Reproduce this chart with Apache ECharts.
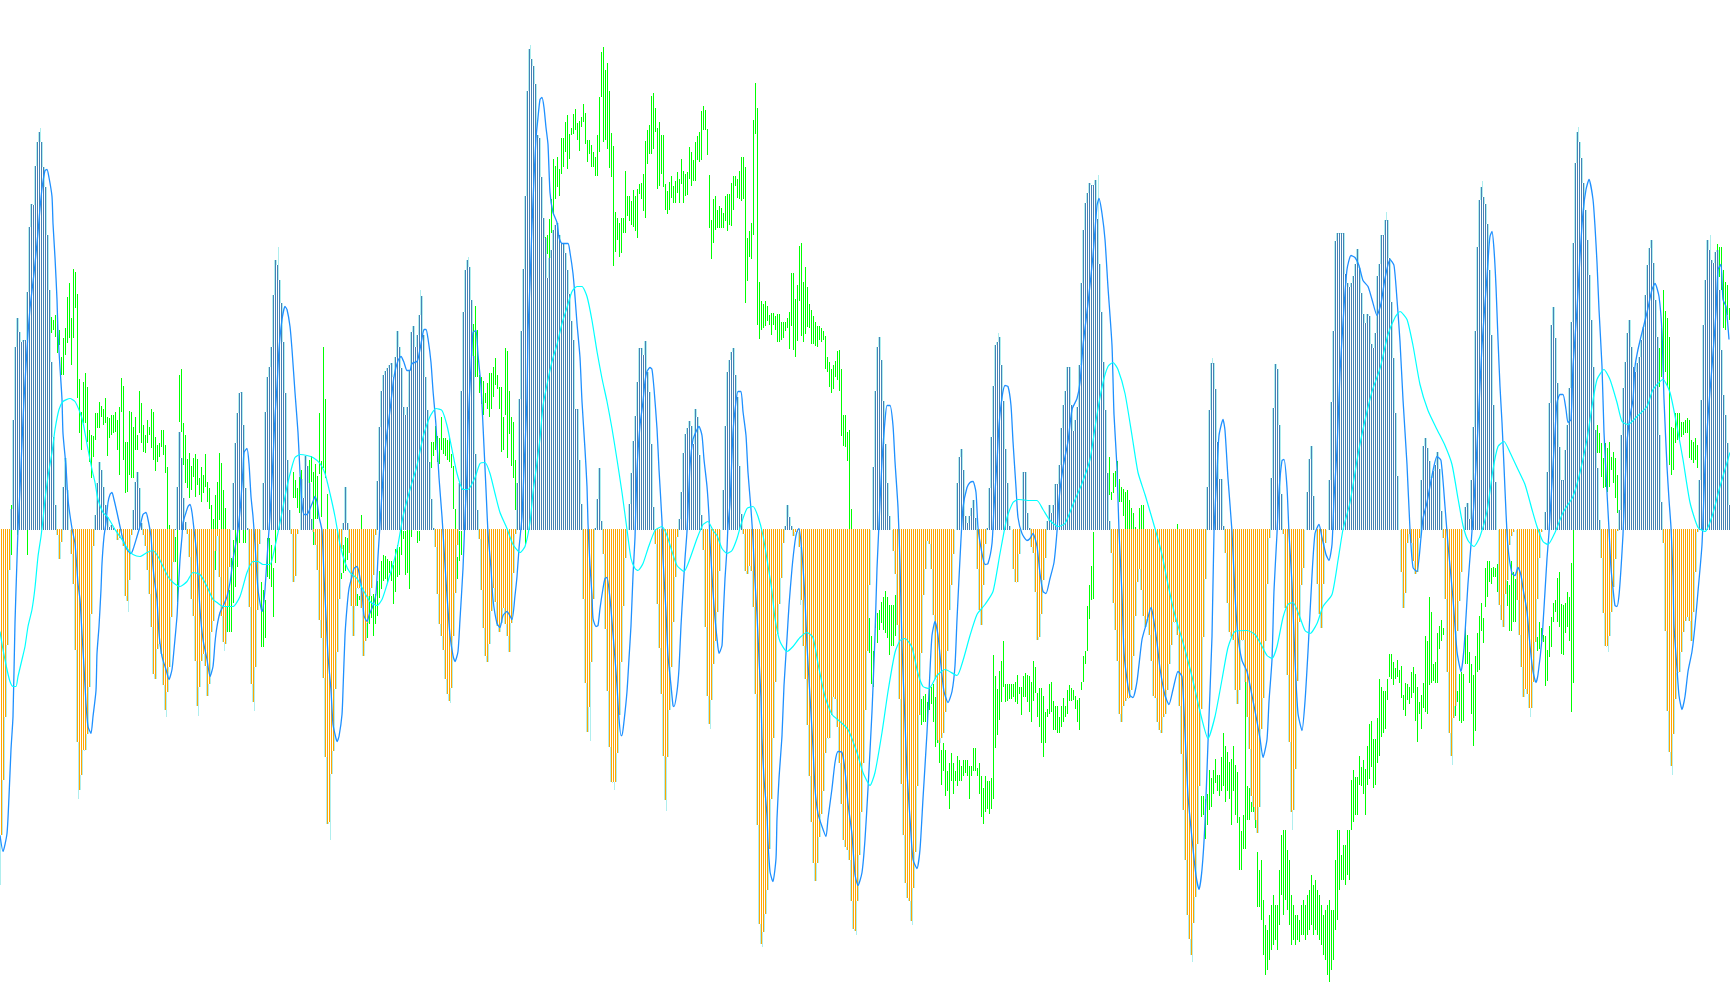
<!DOCTYPE html>
<html><head><meta charset="utf-8"><style>html,body{margin:0;padding:0;background:#fff}#c{width:1730px;height:1005px}</style>
<script src="https://cdn.jsdelivr.net/npm/echarts@6/dist/echarts.min.js"></script></head><body><div id="c"></div><script>
// each segment: [first bar position, [values for every second position]]
const histogramSegments = [
[1,[-305,-250,-187,-115,-40,21,110,183,212,198,188,190,190,238,303,326,325,364,388,398,388,363,343,295,240,168,93,25,-5,-29,-12,43,72,40]],
[71,[-24,-54,-120,-212,-260,-245,-220,-220,-204,-157,-84,-16,15,47,68,60,43,25,13,3,5,2]],
[117,[-10,-8,-5,-16,-66,-71,-50,-5,20,48,58,42,7]],
[143,[-5,-16,-40,-64,-97,-144,-149,-119,-114,-124,-155,-180,-162,-137,-87,-32,1,43,98,72,32,8]],
[187,[-4,-27,-69,-86,-131,-176,-157,-131,-124,-136,-166,-154,-102,-91,-21,-6,-47,-86,-112,-114,-77,-37]],
[233,[47,87,117,137,138,105,42,2,-77,-154,-172,-137,-80,-14]],
[263,[47,118,153,163,183,235,270,265,250,227,188,137,70,20,-4,-52,-46,-4]],
[301,[51,32,74,64,47,11,-2,-15,-40,-90,-108,-148,-227,-294,-292,-244,-221,-159,-122,-69,-19,7,43,7,-23,-76,-106,-76,-58,-58,-78,-126,-111,-93,-66,-58,-45,-5]],
[377,[49,103,139,155,159,162,165,167,153,173,199,183,162,123,115,123,159,198,204,183,195,215,234,195,153,120,68,31,2]],
[435,[-17,-64,-94,-106,-120,-149,-164,-171,-158,-106,-63,-15,47,139,218,260,270,263,230,174,76,20]],
[479,[-9,-60,-98,-126,-132,-114,-81,-58,-72,-96,-102,-93,-78,-94,-106,-122,-93,-43,-4]],
[517,[47,131,199,261,334,439,481,471,464,446,395,392,353,312,292,252,272,280,300,305,307,295,287,287,277,260,236,209,190,121,121,70,26]],
[583,[-69,-153,-202,-177,-132,-69]],
[595,[2,31,62,9]],
[603,[-24,-99,-161,-217,-252,-252,-252,-223,-185,-132,-76,-28]],
[629,[26,57,89,114,148,182,182,175,189,158,138,86,23]],
[655,[-14,-74,-118,-164,-226,-270,-227,-180,-137,-92,-47,-7]],
[679,[11,38,77,96,102,109,104,86,121,113,75,15]],
[703,[-20,-97,-166,-194,-170,-134,-111,-82,-41]],
[723,[40,104,158,170,178,182,155,133,64,16]],
[743,[-4,-41,-44,-36,-41,-77,-164,-295,-394,-414,-402,-384,-360,-319,-269,-208,-152,-104,-74,-48,-13]],
[785,[4,25,13,4]],
[793,[-6,-2,-2,-17,-70,-116,-149,-195,-246,-292,-333,-351,-333,-307,-284,-261,-223,-208,-208,-185,-167,-169,-197,-233,-274,-310,-317,-320,-330,-371,-399,-401,-371,-325,-282,-233,-180,-121,-55]],
[873,[63,139,183,193,170,129,86,47,14]],
[893,[-21,-44,-95,-169,-254,-305,-353,-368,-371,-391,-358,-322,-256,-185,-123,-65,-39,-11,-14,-39,-85,-149,-210,-213,-208,-203,-182,-121,-80,-55,-24]],
[957,[47,73,81,60,14,7,14,22,30,12,-39,-80,-95,-55,-14,2,42,93,144,185,188,193,165,129,81,47,4]],
[1013,[-39,-52,-52,-24]],
[1023,[58,58,17,2]],
[1031,[-17,-23,-62,-110,-107,-84,-50,-28,9,25,17,25,46,46,65,102,125,139,163,163,125,99,110,123,165,247,300,327,337,347,345,345,350,311,266,218,168,120,57,9]],
[1111,[-23,-73,-100,-131,-184,-192,-176,-171,-168,-168,-160,-126,-86,-52,-39,-60,-86,-97,-89,-105,-131,-166,-168,-192,-200,-203,-187,-184,-160,-134,-115,-92,-92,-105,-176,-224,-280,-330,-385,-409,-425,-393,-367,-314,-256,-179,-107,-49]],
[1207,[43,120,167,167,141,88,51,51,4]],
[1225,[-23,-73,-102,-107,-110,-160,-174,-160,-110,-110,-152,-187,-219,-266,-277,-290,-303,-277,-199,-168,-111,-54,-8]],
[1271,[52,122,166,161,105,36]],
[1283,[-4,-78,-145,-212,-282,-280,-239,-151,-92,-55,-38]],
[1307,[38,71,84,34]],
[1317,[-54,-84,-98,-54,-13]],
[1329,[50,128,199,289,297,297,297,297,256,247,243,247,254,266,281,262,237,216,207,216,214,186,182,197,254,266,295,295,310,310,272,228,172,117,54]],
[1401,[-42,-78,-63,-13,-4,-13,-31,-44,-42,-8]],
[1421,[50,84,92,82,69,52,59,65,78,61,19]],
[1443,[-8,-69,-142,-203,-226,-188,-176,-101,-71,-42]],
[1465,[23,27,11,50,103,199,283,330,343,333,326,306,260,195,125,48]],
[1499,[-75,-90,-97,-64,-50,-15,-6,-2]],
[1517,[-70,-105,-137,-167,-159,-164,-178,-178,-152,-112,-69,-28,-2]],
[1545,[18,58,127,205,223,192,147,83,50,50,80,105,142,208,287,367,398,388,372,347,320,290,255,210,163,100,62,10]],
[1601,[-28,-83,-116,-116,-106,-82,-57,-29,-1]],
[1619,[20,95,142,168,197,210,183,163,158,167,173,190,203,235,265,282,290,267,230,193,95,28]],
[1663,[-13,-101,-181,-222,-236,-204,-169,-143,-142,-122,-102,-91,-87,-91,-111,-82,-42,-2]],
[1699,[50,130,205,250,290,280,270,267,278,280,240,180,135,115,87,25]]
];
// pale envelope tips: position, value
const paleTips = [0,-355,40,402,78,-269,128,-82,166,-187,198,-186,224,-121,254,-181,278,283,330,-310,420,240,450,-173,468,273,530,485,590,-211,614,-260,666,-281,710,-199,762,-417,800,-75,856,-405,912,-395,998,197,1098,355,1192,-432,1212,172,1292,-300,1386,318,1452,-235,1482,349,1530,-187,1578,403,1608,-122,1672,-245,1710,295];
// each segment: [first bar position, [high,low, high,low, ...]]
const greenSegments = [
[11,[25,-25]],[17,[5,-5]],[27,[10,-25]],
[51,[213,197,210,200,215,193,206,177,200,185,173,155,192,155,202,175,233,187,247,192,212,165,261,192,258,222,236,132,151,97,118,80,148,107,157,107,143,88,100,68,95,52,94,73,117,90,117,102,128,102,124,113,121,105,132,107,113,74,112,92,115,95,115,97,118,98,110,80,123,55,152,118,144,70,88,37,88,38,119,55,118,52,103,52,113,80,95,80,139,97,127,87,105,78,95,77,110,87,103,95,121,82,118,70,93,59,85,68,87,73,100,83,100,75,85,57,63,-1,5,-3]],
[175,[-7,-32,20,-72,155,108,161,98,107,65,95,47,71,42,77,32,64,40,72,53,76,33,71,45,52,35,63,28,55,37,76,43,48,28,42,21,25,-1,11,-1,35,-40,48,-1,77,10,67,-1,40,-1,22,-1,-60,-102,-60,-102,-28,-102,-10,-73,0,-57,0,-37,0,-13]],
[243,[0,-13,0,-13]],
[261,[-52,-117,-60,-117,-70,-108,-8,-47,-8,-49,-15,-57,-38,-87,0,-33]],
[293,[58,32,50,32,42,22,53,17,60,17]],
[309,[70,11,74,48,58,-15,66,11,54,11,117,56,69,13,183,62,131,52,36,1]],
[341,[-43,-49,-15,-43,-7,-41,-8,-30]],
[357,[-64,-76,-66,-70,15,-3]],
[367,[-92,-108,-64,-94,-66,-88,-64,-106,-64,-94,-51,-86,-41,-68,-31,-59,-25,-51,-26,-49,-29,-53,-31,-43,-31,-51,-35,-74,-19,-62,-15,-47,-17,-45,1,-25,-1,-9,-1,-45,1,-43,1,-59,1,-7]],
[417,[-1,-13,-1,-11]],
[431,[88,62,88,74,104,80,94,68,92,66,113,80,92,76,92,74,90,70,92,68,76,62,64,21,21,1,-27,-49,-1,-31,-1,-25]],
[473,[206,171,224,153,200,153,155,137,153,126,149,115,137,127,147,121,157,113,157,121,163,133,172,145,155,141,143,121,143,78,113,80,182,115,179,72,139,96,113,64,108,52,70,20]],
[525,[0,-14]],
[545,[293,271,295,276,311,258,331,297,371,317,364,331,373,343,361,334,392,356,392,363,408,378,415,361,396,371,402,395,416,396,421,400,407,390,409,379,413,403,426,408,417,386,390,368,390,376,385,363,378,363,373,354,395,354,433,378,478,433,483,388,460,390,467,381,439,362,397,353,384,264,318,278,312,290,307,273,312,277,312,297,359,297,334,314,334,309,329,305,340,303,334,299,341,292,346,336,347,331,356,319,389,312,400,366,405,376,434,376,437,381,422,398,402,341,408,344,395,356,395,343,346,320,339,316,348,320,354,332,344,327,349,327,358,337,351,327,371,346,359,327,356,334,358,335,383,351,378,344,370,349,388,349,394,370,398,368,419,370,424,400,420,400,401,375,355,302,310,271,331,287,334,300,320,302,324,302,322,302,317,302,334,309,336,299,336,305,347,304,354,320,354,344,351,332,359,331,373,329,373,331,363,227,292,249,299,273,307,271,410,295,447,396,422,205,248,191,229,200,226,202,229,204,224,209,215,205,217,195,217,205,214,200,216,188,216,188,208,190,208,192,208,199,212,202,218,181,257,204,257,180,231,173,245,189,284,229,287,194,248,188,263,196,243,203,226,202,220,186,214,186,208,184,204,183,204,190,202,188,199,190,194,161,173,158,168,143,161,137,165,141,169,153,179,150,180,139,161,94,115,84,115,83,98,69,100,0,21,0]],
[869,[-88,-123,-106,-154,-121,-157,-83,-98,-83,-113,-80,-100,-72,-93,-67,-100,-61,-103,-67,-108,-75,-125,-75,-116,-75,-116,-65,-106]],
[921,[-169,-195,-166,-192,-164,-192,-172,-192,-157,-180,-157,-174,-154,-192,-167,-217,-192,-213,-205,-233,-220,-255,-213,-241,-220,-266,-241,-261,-233,-279,-223,-251,-233,-264,-241,-251,-226,-256,-230,-251,-236,-251,-230,-246,-230,-243,-230,-246,-236,-269,-236,-246,-218,-241,-218,-241,-238,-246,-233,-264,-246,-287,-258,-294,-246,-282,-251,-279,-251,-284,-248,-279,-125,-269,-146,-218,-159,-205,-141,-190,-131,-172,-111,-157,-154,-172,-154,-171,-154,-169,-154,-169,-154,-167,-152,-172,-145,-174,-157,-164,-157,-185,-146,-167,-143,-167,-145,-172,-146,-182,-152,-192,-131,-171,-137,-163,-163,-187,-158,-197,-158,-213,-166,-227,-182,-213,-179,-187,-154,-184,-152,-182,-171,-200,-176,-200,-176,-203,-187,-203,-176,-197,-168,-192,-176,-187,-160,-184,-155,-171,-158,-171,-160,-170,-166,-179,-170,-192,-168,-200,-152,-160,-126,-152,-121,-134,-76,-121,-55,-89,-36,-70,-2,-69]],
[1109,[73,35,38,30,57,37,59,43,69,51,51,28,43,28,41,14,38,0,40,0,30,0,22,0,17,0,3,0]],
[1139,[22,0,25,0,25,0]],
[1177,[6,0]],
[1201,[-266,-287,-266,-285,-269,-309,-264,-295,-240,-280,-248,-277,-240,-264,-229,-253,-245,-261,-245,-266,-227,-261,-203,-256,-216,-272,-222,-261,-232,-269,-229,-295,-216,-261,-235,-285,-242,-293,-287,-340,-301,-340,-285,-319,-152,-319,-256,-290,-258,-290,-272,-282,-256,-282,-287,-298,-322,-377,-340,-377]],
[1261,[-330,-390,-370,-425,-395,-445,-400,-440,-385,-430,-375,-420,-365,-415,-375,-410,-375,-420,-340,-395,-305,-365,-300,-385,-300,-370,-320,-380,-330,-395,-365,-415,-375,-410,-385,-415,-385,-410,-390,-412,-375,-405,-370,-405,-375,-410,-365,-405,-360,-400,-345,-395,-355,-405,-350,-400,-360,-405,-365,-410,-375,-415,-385,-425,-380,-430,-375,-445,-370,-452,-380,-440,-380,-430,-330,-400,-300,-390,-300,-360,-325,-350,-315,-350,-315,-355,-300,-345,-300,-350,-250,-300,-240,-292]],
[1355,[-247,-285,-247,-285,-226,-255,-237,-256,-230,-264,-239,-285,-216,-255,-194,-249,-191,-237,-209,-258,-209,-255,-188,-233,-149,-226,-157,-207,-161,-203,-161,-199,-149,-170,-124,-147,-124,-149,-132,-155,-138,-149,-130,-147,-140,-153,-136,-168,-165,-180,-153,-186,-154,-170,-157,-174,-142,-168,-137,-163,-144,-191,-157,-212,-172,-184,-165,-199,-153,-178,-106,-182,-111,-184,-67,-155,-82,-153,-134,-151,-132,-153,-103,-153,-96,-119,-90,-111,-98,-105]],
[1455,[-165,-186,-161,-172,-144,-191,-142,-193,-144,-191,-92,-134,-105,-134,-122,-153,-134,-184,-145,-216,-126,-201,-103,-142,-86,-140,-73,-101,-88,-113,-38,-77,-31,-67,-31,-52,-38,-54,-37,-47,-38,-47,-34,-62]],
[1507,[-51,-76,-55,-101,-31,-101,-42,-92,-49,-92,-32,-55]],
[1537,[-107,-121,-92,-119,-98,-111,-105,-112,-106,-156,-120,-151,-96,-127,-87,-117,-73,-92,-70,-82,-48,-92,-42,-97,-74,-124,-75,-125,-73,-103,-62,-97,-67,-111,-33,-182,0,-153]],
[1597,[105,77,97,77,87,53,72,42,87,43,82,38,88,43,73,60,78,47,72,32,55,17]],
[1657,[182,152,182,143,202,153,240,155,219,158,212,143,193,65,103,55,102,60,117,87,117,90,117,90,108,93,108,95,110,97,112,97,110,72,90,70,88,67,92,70,85,62]],
[1717,[286,247,283,253,283,240,260,202,248,200,245,215,222,210]]
];
// fast line: position, value pairs
const blueLine = [0,-306,3,-322,7,-304,9,-267,11,-220,13,-187,15,-93,17,-30,18,0,20,40,22,87,24,130,28,196,30,221,32,239,34,256,36,276,38,297,40,321,42,341,45,359,47,360,49,352,52,333,53,306,55,272,57,230,58,196,60,162,62,130,63,96,66,63,68,30,72,1,75,-14,78,-54,80,-70,82,-104,84,-137,86,-174,88,-197,91,-204,93,-187,96,-161,97,-124,99,-97,101,-60,102,-34,104,-7,106,7,108,27,110,35,112,37,114,30,117,17,120,3,123,-10,127,-20,131,-24,133,-20,137,-7,140,3,143,15,146,17,148,10,151,-7,153,-37,155,-55,157,-70,159,-104,162,-127,166,-140,169,-150,172,-140,174,-120,177,-87,178,-67,180,-30,182,-7,183,7,186,17,188,23,190,25,192,17,194,0,197,-27,200,-80,203,-110,207,-130,210,-147,213,-137,215,-113,217,-97,220,-83,223,-77,227,-67,230,-53,233,-30,237,-7,240,18,243,60,244,77,247,81,249,66,251,33,253,13,255,-14,258,-60,262,-82,263,-79,265,-60,268,-14,270,13,273,70,275,113,277,143,279,180,282,210,285,223,287,220,290,203,292,180,295,137,298,97,300,57,302,26,304,15,307,15,310,21,313,28,315,33,317,28,319,13,322,-1,324,-47,326,-86,328,-126,331,-161,333,-195,336,-209,337,-212,339,-207,342,-185,343,-161,345,-106,347,-78,349,-59,352,-47,354,-39,357,-37,359,-43,362,-62,364,-86,367,-92,369,-86,373,-76,376,-64,378,-27,380,5,383,52,386,88,390,119,394,153,398,169,401,173,404,167,407,159,410,159,412,166,417,168,419,175,422,191,424,200,426,200,428,191,431,167,433,139,436,104,439,52,442,13,445,-35,447,-66,450,-106,453,-126,455,-132,458,-122,460,-90,463,-39,465,13,467,56,468,104,471,163,473,197,476,199,478,175,481,143,483,104,486,40,488,-3,491,-39,493,-70,497,-94,500,-98,503,-86,507,-82,512,-90,515,-66,517,-47,519,-19,522,13,524,60,527,131,528,198,530,246,532,304,534,351,536,391,538,412,540,430,542,432,544,422,546,402,548,385,550,337,553,317,557,307,559,292,562,286,568,286,570,277,573,256,575,233,577,206,580,172,582,128,585,80,587,43,588,6,590,-36,592,-66,593,-89,596,-97,598,-96,600,-79,603,-59,605,-49,607,-48,610,-69,612,-92,615,-129,617,-156,619,-189,621,-206,622,-206,624,-192,627,-162,629,-129,631,-96,633,-46,635,-8,637,60,640,104,643,128,645,148,647,158,650,162,652,160,654,141,657,101,659,60,662,8,663,-29,666,-82,668,-126,671,-156,673,-176,674,-177,677,-162,679,-139,681,-96,683,-62,685,-29,687,-2,690,63,693,90,697,100,699,103,702,94,704,70,707,43,709,13,710,-12,713,-62,715,-89,717,-109,719,-124,722,-116,723,-92,725,-49,727,-19,728,4,730,26,733,97,736,128,738,138,741,138,743,118,746,94,748,57,751,20,753,-10,755,-52,757,-85,759,-129,761,-169,762,-209,764,-249,767,-286,768,-312,770,-342,772,-350,773,-352,776,-329,777,-289,779,-249,782,-206,784,-156,787,-109,789,-76,792,-39,795,-12,797,-2,799,1,802,-24,805,-70,807,-116,810,-167,813,-218,815,-259,818,-284,822,-297,826,-307,828,-289,832,-259,835,-233,838,-222,842,-223,845,-241,848,-274,852,-305,855,-345,858,-356,862,-343,865,-310,868,-259,872,-182,875,-106,877,-39,880,27,882,68,885,109,887,124,890,124,893,104,895,68,898,22,900,-34,902,-116,905,-192,907,-243,910,-289,913,-330,917,-339,920,-320,923,-269,927,-203,930,-141,932,-106,935,-92,938,-106,941,-136,944,-162,948,-173,952,-162,955,-136,957,-90,960,-29,963,22,967,42,970,47,973,48,976,37,978,2,982,-24,985,-35,988,-34,992,-14,994,22,997,68,999,104,1002,132,1005,144,1008,143,1011,124,1013,88,1016,42,1018,12,1022,-4,1027,-11,1030,-9,1033,-4,1037,-17,1040,-44,1043,-62,1046,-64,1050,-49,1054,-33,1057,-2,1059,30,1063,62,1068,88,1072,120,1077,131,1080,147,1083,184,1088,226,1093,274,1097,324,1099,331,1102,316,1105,290,1108,242,1112,184,1114,115,1117,62,1119,-2,1122,-65,1124,-123,1127,-150,1130,-166,1133,-168,1137,-152,1142,-110,1147,-92,1151,-78,1153,-86,1157,-113,1160,-139,1165,-166,1169,-175,1173,-160,1178,-142,1182,-147,1185,-203,1188,-266,1192,-309,1196,-346,1199,-360,1202,-340,1205,-293,1208,-213,1212,-107,1214,-2,1217,57,1219,94,1223,110,1225,99,1228,51,1232,-2,1235,-65,1238,-107,1242,-131,1247,-142,1252,-166,1257,-192,1260,-209,1263,-228,1267,-210,1269,-172,1272,-130,1274,-61,1277,-4,1279,38,1282,69,1284,70,1287,42,1289,-4,1292,-54,1295,-130,1298,-184,1302,-201,1305,-172,1308,-122,1312,-46,1315,-4,1319,5,1322,-8,1326,-25,1329,-31,1332,-15,1334,31,1337,80,1340,157,1344,222,1347,260,1351,274,1355,272,1359,264,1363,249,1368,243,1372,230,1377,214,1381,226,1385,251,1390,270,1394,264,1397,230,1400,188,1403,130,1407,65,1410,0,1413,-38,1417,-42,1421,-8,1423,11,1427,27,1432,54,1437,73,1441,69,1445,23,1448,-15,1453,-69,1457,-122,1461,-142,1464,-119,1468,-54,1471,-15,1474,27,1478,103,1482,184,1487,253,1489,283,1490,293,1492,298,1494,280,1496,243,1498,190,1500,143,1502,107,1504,63,1506,17,1508,-18,1512,-44,1515,-46,1518,-38,1521,-46,1523,-59,1527,-82,1530,-116,1533,-142,1536,-153,1538,-145,1542,-109,1545,-62,1547,-29,1549,-3,1552,47,1555,97,1557,127,1560,135,1563,135,1566,120,1568,107,1571,110,1573,163,1577,220,1580,273,1583,317,1586,340,1589,350,1593,330,1595,303,1597,267,1599,220,1602,163,1604,97,1607,37,1609,0,1611,-39,1613,-59,1615,-76,1617,-77,1619,-66,1621,-39,1623,-5,1627,87,1630,113,1633,130,1635,163,1638,180,1642,197,1647,217,1652,240,1655,246,1659,233,1662,197,1664,130,1667,63,1669,30,1671,2,1673,-46,1674,-96,1677,-139,1679,-166,1682,-180,1685,-167,1688,-142,1692,-122,1695,-96,1698,-62,1702,-15,1705,63,1708,113,1712,163,1716,217,1718,260,1721,265,1723,230,1726,223,1729,190];
// slow line: position, value pairs
const cyanLine = [0,-102,3,-120,7,-140,10,-152,13,-157,16,-157,18,-147,22,-130,25,-117,28,-97,32,-80,35,-58,38,-27,41,-7,43,10,45,30,48,53,52,77,55,100,59,120,63,128,70,131,75,128,80,117,83,107,88,80,92,60,95,47,98,30,103,17,108,12,115,0,122,-10,128,-20,133,-25,140,-27,147,-23,153,-21,158,-27,163,-37,168,-47,173,-53,180,-57,187,-52,193,-43,200,-45,207,-57,213,-70,217,-73,223,-77,233,-77,240,-67,247,-43,253,-32,258,-32,263,-35,270,-35,275,-17,278,-3,282,17,287,43,292,63,295,72,300,75,307,74,313,72,320,66,325,56,330,36,335,13,340,-15,345,-33,350,-43,357,-49,363,-60,370,-72,377,-76,382,-70,387,-55,393,-35,398,-15,403,13,410,40,417,64,423,92,430,113,436,121,442,119,447,104,452,80,457,56,463,40,468,40,475,52,480,66,485,67,490,56,495,36,500,17,507,1,513,-15,520,-23,525,-17,530,7,533,37,537,67,540,91,543,124,547,145,552,168,557,185,562,206,567,222,572,238,577,243,582,243,587,233,592,209,597,178,602,151,607,128,612,101,617,70,622,37,627,0,631,-29,635,-39,638,-41,643,-34,648,-19,655,-1,662,3,667,-6,672,-22,677,-36,684,-42,690,-29,697,-9,703,5,708,8,713,-1,717,-6,722,-19,727,-24,732,-21,737,-9,741,5,747,21,753,23,758,13,763,-6,768,-36,772,-62,775,-89,780,-112,787,-122,793,-117,800,-108,807,-103,813,-108,818,-134,825,-167,832,-185,840,-192,848,-200,857,-223,863,-243,870,-256,875,-243,882,-203,888,-162,895,-123,900,-111,905,-109,912,-118,918,-144,923,-157,929,-159,937,-146,945,-140,957,-146,963,-131,970,-106,977,-85,985,-75,993,-62,1000,-24,1007,12,1013,27,1018,30,1030,29,1037,29,1043,20,1050,9,1058,3,1065,6,1073,25,1082,46,1090,70,1097,115,1103,147,1108,163,1113,167,1118,160,1125,136,1132,94,1138,57,1145,35,1155,1,1162,-25,1168,-55,1175,-86,1183,-113,1192,-147,1200,-182,1208,-209,1215,-187,1222,-150,1228,-118,1235,-102,1247,-101,1255,-105,1260,-113,1267,-126,1272,-129,1277,-117,1283,-88,1288,-75,1293,-73,1300,-88,1305,-101,1310,-104,1317,-94,1323,-77,1332,-65,1338,-31,1343,0,1350,27,1357,69,1363,100,1372,138,1380,161,1388,195,1395,212,1400,218,1407,210,1413,184,1420,145,1428,119,1437,100,1445,84,1452,65,1458,31,1463,4,1468,-11,1474,-17,1480,-7,1487,18,1493,60,1498,83,1504,88,1510,77,1518,60,1525,45,1532,20,1537,3,1543,-12,1548,-15,1555,-3,1563,17,1573,33,1580,57,1587,90,1592,123,1597,150,1604,160,1610,150,1617,127,1622,108,1628,105,1637,113,1647,123,1653,140,1663,150,1670,137,1677,103,1683,70,1690,27,1698,2,1705,-2,1712,13,1720,43,1730,77];

const pairs = (flat, n) => { const out = []; for (let i = 0; i < flat.length; i += n) out.push(flat.slice(i, i + n)); return out; };
const histData = []; histogramSegments.forEach(([s, vals]) => vals.forEach((v, k) => histData.push([s + 2 * k, v])));
const histMap = new Map(histData);
const greenData = []; greenSegments.forEach(([s, vals]) => pairs(vals, 2).forEach((p, k) => greenData.push([s + 2 * k, p[0], p[1]])));
const paleData = [];
for (let p = 1; p < 1730; p += 2) {
  const a = histMap.get(p) || 0, b = histMap.get(p + 2) || 0;
  if (a !== 0 || b !== 0) paleData.push([p + 1, a, b]);
}
pairs(paleTips, 2).forEach(([x, v]) => {
  const a = histMap.get(x - 1) || 0, b = histMap.get(x + 1) || 0;
  paleData.push([x, v < 0 ? Math.min(a, b, 0) : Math.max(a, b, 0), v]);
});
const rectSpan = (api, xv, v1, v2, color) => {
  const x = Math.round(api.coord([xv, 0])[0]);
  const a = Math.round(api.coord([xv, v1])[1]), b = Math.round(api.coord([xv, v2])[1]);
  return { type: 'rect', shape: { x, y: Math.min(a, b), width: 1, height: Math.max(1, Math.abs(a - b)) }, style: { fill: color } };
};
const chart = echarts.init(document.getElementById('c'), null, { renderer: 'canvas' });
chart.setOption({
  animation: false, backgroundColor: '#ffffff',
  grid: { left: 0, right: 0, top: 0, bottom: 0 },
  xAxis: { type: 'value', min: 0, max: 1730, show: false },
  yAxis: { type: 'value', min: -475.5, max: 529.5, show: false },
  series: [
    { type: 'custom', z: 1, silent: true, data: greenData, clip: true,
      renderItem: (p, api) => rectSpan(api, api.value(0), api.value(1), api.value(2), '#00FF00') },
    { type: 'custom', z: 2, silent: true, data: paleData, clip: true,
      renderItem: (p, api) => rectSpan(api, api.value(0), api.value(1), api.value(2), '#AFEEEE') },
    { type: 'custom', z: 3, silent: true, data: histData, clip: true,
      renderItem: (p, api) => { const v = api.value(1); return rectSpan(api, api.value(0), v > 0 ? -0.5 : 0.5, v, v > 0 ? '#4682B4' : '#FFA500'); } },
    { type: 'line', z: 4, silent: true, data: pairs(blueLine, 2), showSymbol: false, smooth: 0.2, lineStyle: { color: '#1E90FF', width: 1.3 } },
    { type: 'line', z: 5, silent: true, data: pairs(cyanLine, 2), showSymbol: false, smooth: 0.2, lineStyle: { color: '#00FFFF', width: 1.2 } }
  ]
});
</script></body></html>
